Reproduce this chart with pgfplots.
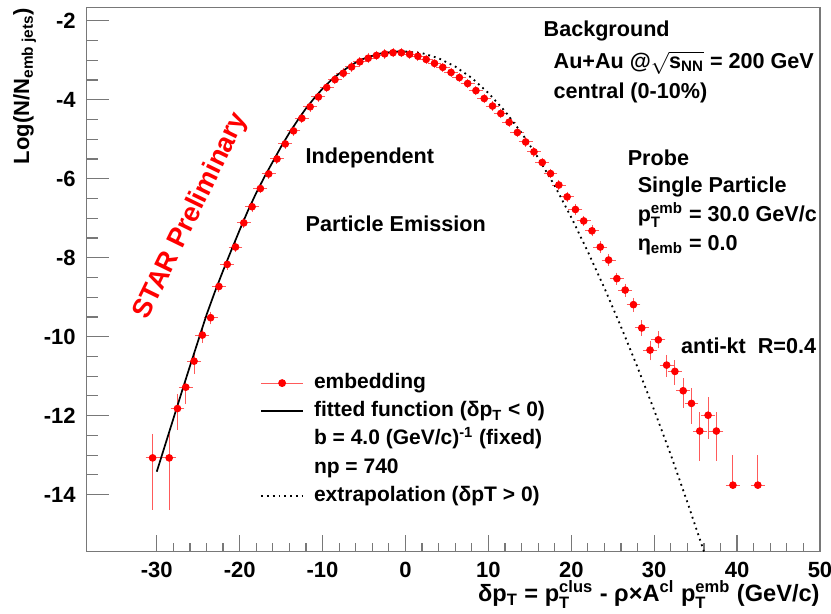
\documentclass[border=0pt]{standalone}
\usepackage{pgfplots}
\pgfplotsset{compat=1.18}
\usepackage{pgfplotstable}
\usepackage{amsmath}
\usepackage{fontspec}
\setmainfont{Liberation Sans}
\definecolor{framegray}{RGB}{120,120,120}
\definecolor{errred}{RGB}{255,90,90}
\pgfplotstableread{
x y ep em ex
-30.5 -13.07 0.54 1.24 0.5
-28.5 -13.07 0.54 1.24 0.5
-27.5 -11.82 0.30 0.47 0.5
-26.5 -11.28 0.15 0.35 0.5
-25.5 -10.62 0.15 0.25 0.5
-24.5 -9.96 0.10 0.12 0.5
-23.5 -9.52 0.08 0.10 0.5
-22.5 -8.73 0.07 0.08 0.5
-21.5 -8.17 0.06 0.07 0.5
-20.5 -7.73 0.06 0.06 0.5
-19.5 -7.12 0.05 0.05 0.5
-18.5 -6.71 0.05 0.05 0.5
-17.5 -6.25 0.05 0.05 0.5
-16.5 -5.88 0.05 0.05 0.5
-15.5 -5.50 0.05 0.05 0.5
-14.5 -5.12 0.05 0.05 0.5
-13.5 -4.79 0.05 0.05 0.5
-12.5 -4.47 0.05 0.05 0.5
-11.5 -4.18 0.05 0.05 0.5
-10.5 -3.93 0.05 0.05 0.5
-9.5 -3.69 0.05 0.05 0.5
-8.5 -3.49 0.05 0.05 0.5
-7.5 -3.33 0.05 0.05 0.5
-6.5 -3.17 0.05 0.05 0.5
-5.5 -3.04 0.05 0.05 0.5
-4.5 -2.95 0.05 0.05 0.5
-3.5 -2.88 0.05 0.05 0.5
-2.5 -2.84 0.05 0.05 0.5
-1.5 -2.81 0.05 0.05 0.5
-0.5 -2.81 0.05 0.05 0.5
0.5 -2.85 0.05 0.05 0.5
1.5 -2.90 0.05 0.05 0.5
2.5 -2.98 0.05 0.05 0.5
3.5 -3.08 0.05 0.05 0.5
4.5 -3.18 0.05 0.05 0.5
5.5 -3.31 0.05 0.05 0.5
6.5 -3.44 0.05 0.05 0.5
7.5 -3.59 0.05 0.05 0.5
8.5 -3.77 0.05 0.05 0.5
9.5 -3.97 0.05 0.05 0.5
10.5 -4.16 0.05 0.05 0.5
11.5 -4.35 0.05 0.05 0.5
12.5 -4.57 0.05 0.05 0.5
13.5 -4.83 0.05 0.05 0.5
14.5 -5.07 0.05 0.05 0.5
15.5 -5.32 0.05 0.05 0.5
16.5 -5.59 0.05 0.05 0.5
17.5 -5.87 0.05 0.05 0.5
18.5 -6.16 0.06 0.06 0.5
19.5 -6.46 0.06 0.06 0.5
20.5 -6.78 0.06 0.06 0.5
21.5 -7.07 0.06 0.06 0.5
22.5 -7.32 0.07 0.07 0.5
23.5 -7.73 0.07 0.07 0.5
24.5 -8.06 0.08 0.08 0.5
25.5 -8.53 0.08 0.09 0.5
26.5 -8.82 0.09 0.10 0.5
27.5 -9.19 0.10 0.11 0.5
28.5 -9.78 0.12 0.13 0.5
29.5 -10.34 0.17 0.19 0.5
30.5 -10.08 0.15 0.14 0.5
31.5 -10.72 0.19 0.23 0.5
32.5 -10.88 0.21 0.27 0.5
33.5 -11.37 0.25 0.36 0.5
34.5 -11.69 0.31 0.44 0.5
35.5 -12.39 0.41 0.68 0.5
36.5 -11.99 0.38 0.52 0.5
37.5 -12.39 0.41 0.68 0.5
39.5 -13.76 0.68 0.00 0.5
42.5 -13.76 0.68 0.00 0.5
}\embdata
\pgfplotstableread{
x y
-30 -13.42
-29 -12.75
-28 -12.08
-27 -11.41
-26 -10.75
-25 -10.10
-24 -9.45
-23 -8.87
-22 -8.33
-21 -7.81
-20 -7.30
-19 -6.81
-18 -6.36
-17 -5.95
-16 -5.57
-15 -5.19
-14 -4.84
-13 -4.52
-12 -4.22
-11 -3.96
-10 -3.72
-9 -3.51
-8 -3.34
-7 -3.19
-6 -3.06
-5 -2.96
-4 -2.89
-3 -2.83
-2 -2.80
-1 -2.78
0 -2.78
}\fitdata
\pgfplotstableread{
x y
0 -2.78
2 -2.82
4 -2.95
6 -3.16
8 -3.45
10 -3.83
12 -4.29
14 -4.84
16 -5.47
18 -6.18
20 -6.98
22 -7.85
24 -8.77
26 -9.75
28 -10.78
30 -11.86
32 -12.99
34 -14.19
36 -15.44
}\extdata
\newcommand{\supsub}[2]{$^{\text{#1}}_{\text{#2}}$}
\begin{document}
\begin{tikzpicture}[font=\bfseries]
\begin{axis}[
  at={(0,0)}, anchor=south west,
  scale only axis, width=366.65pt, height=272.1pt,
  xmin=-38.45, xmax=50, ymin=-15.44, ymax=-1.66,
  axis line style={draw=framegray, line width=0.6pt},
  xtick={-30,-20,...,50}, minor x tick num=4,
  ytick=\empty,
  xtick pos=lower, tick align=inside,
  major tick length=8.3pt, minor tick length=4pt,
  tick style={draw=framegray, line width=0.6pt},
  /pgf/number format/assume math mode=true,
  xticklabel style={font=\fontsize{11}{13}\selectfont\bfseries, yshift=-2pt},
  xlabel={δp$_{\text{T}}$ = p\supsub{clus}{T} - ρ×A$^{\text{cl}}$ p\supsub{emb}{T} (GeV/c)},
  xlabel style={font=\fontsize{11.8}{14}\selectfont\bfseries, at={(rel axis cs:1,-0.079)}, anchor=east, inner sep=0pt},
  legend image code/.code={\draw[mark repeat=2,mark phase=2,#1] plot coordinates {(0pt,0pt) (10.5pt,0pt) (21pt,0pt)};},
  legend style={at={(axis cs:-17.52,-10.91)}, anchor=north west, draw=none, fill=none,
    inner sep=0pt, outer sep=0pt, row sep=3.6pt, column sep=5pt,
    font=\fontsize{10.5}{12}\selectfont\bfseries,
    nodes={inner sep=0pt, text height=8pt, text depth=2.5pt}},
  legend cell align=left,
]
\addplot[only marks, mark=*, mark size=1.7pt, color=red, forget plot,
  error bars/.cd, x dir=both, x explicit, y dir=both, y explicit,
  error bar style={errred, line width=0.5pt},
  error mark options={errred, mark size=1.4pt, line width=0.5pt}]
  table[x=x, y=y, x error=ex, y error plus=ep, y error minus=em] {\embdata};
\addplot[black, line width=0.85pt, forget plot] table[x=x, y=y] {\fitdata};
\addplot[black, line width=0.9pt, dotted, forget plot] table[x=x, y=y] {\extdata};

\addlegendimage{errred, line width=0.5pt, mark=*, mark size=1.7pt, mark options={red, solid}}
\addlegendentry{embedding}
\addlegendimage{black, line width=0.85pt}
\addlegendentry{fitted function (δp\textsubscript{T} < 0)}
\addlegendimage{empty legend}
\addlegendentry{b = 4.0 (GeV/c)\textsuperscript{-1} (fixed)}
\addlegendimage{empty legend}
\addlegendentry{np = 740}
\addlegendimage{black, line width=0.9pt, dotted}
\addlegendentry{extrapolation (δpT > 0)}

\begin{scope}[every node/.style={font=\fontsize{10.8}{13}\selectfont\bfseries, inner sep=0pt, anchor=base west}]
\node at (axis cs:16.62,-2.41) {Background};
\node at (axis cs:17.83,-3.21) {Au+Au @$\sqrt{\text{s}_{\text{NN}}}$ = 200 GeV};
\node at (axis cs:17.83,-3.97) {central (0-10\%)};
\node at (axis cs:26.77,-5.67) {Probe};
\node at (axis cs:27.97,-6.36) {Single Particle};
\node at (axis cs:27.97,-7.09) {p\supsub{emb}{T} = 30.0 GeV/c};
\node at (axis cs:27.97,-7.81) {η\textsubscript{emb} = 0.0};
\node at (axis cs:33.2,-10.43) {anti-kt\ \ R=0.4};
\node at (axis cs:-12.08,-5.61) {Independent};
\node at (axis cs:-12.08,-7.35) {Particle Emission};
\end{scope}
\node[font=\fontsize{13.5}{16}\selectfont\bfseries, text=red, rotate=64, inner sep=0pt] at (axis cs:-25.84,-6.95) {STAR Preliminary};
\end{axis}
\begin{axis}[
  at={(0,0)}, anchor=south west,
  scale only axis, width=366.65pt, height=272.1pt,
  xmin=-38.45, xmax=50, ymin=-15.44, ymax=-1.66,
  axis line style={draw=none},
  xtick=\empty,
  ytick={-14,-12,...,-2}, minor y tick num=3,
  ytick pos=left, tick align=inside,
  major tick length=11.3pt, minor tick length=5.8pt,
  tick style={draw=framegray, line width=0.6pt},
  /pgf/number format/assume math mode=true,
  yticklabel style={font=\fontsize{11}{13}\selectfont\bfseries, xshift=-2pt},
  ylabel={Log(N/N\textsubscript{emb jets})},
  ylabel style={font=\fontsize{11}{13}\selectfont\bfseries, at={(rel axis cs:-0.0846,1)}, anchor=east, inner sep=0pt},
]
\end{axis}
\pgfresetboundingbox
\path[use as bounding box] (-43.35pt,-31.25pt) rectangle (372.15pt,275.75pt);
\end{tikzpicture}
\end{document}
